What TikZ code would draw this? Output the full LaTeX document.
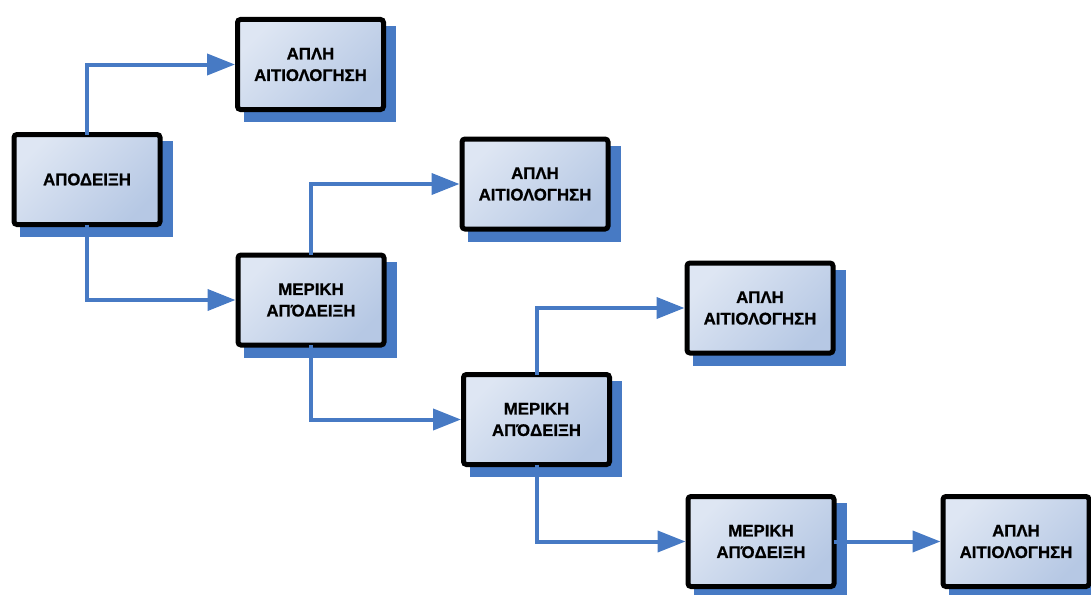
\documentclass[tikz,border=0pt]{standalone}
\usepackage{fontspec}
\setmainfont{Liberation Sans}[BoldFeatures={FakeBold=0.8}]
\usetikzlibrary{arrows.meta,backgrounds,calc}
\definecolor{blu}{RGB}{71,122,196}
\definecolor{lite}{RGB}{222,230,243}
\definecolor{dark}{RGB}{182,200,228}
\begin{document}
\begin{tikzpicture}[x=1pt,y=-1pt,
 box/.style={draw=black, line width=5pt, rounded corners=3pt, minimum width=146pt, minimum height=90pt, inner sep=0pt, outer sep=0pt, align=center, font=\bfseries\fontsize{16.8}{21.5}\selectfont, top color=lite, bottom color=dark, shading angle=45},
 conn/.style={draw=blu, line width=4pt, -{Triangle[length=28pt,width=21pt]}},
 shad/.style={fill=blu}
 ]
\useasboundingbox (0,0) rectangle (1091,594);
\node[box] (b1) at (87,179.5) {ΑΠΟΔΕΙΞΗ};
\node[box] (b2) at (310.5,64.5) {ΑΠΛΗ\\ΑΙΤΙΟΛΟΓΗΣΗ};
\node[box] (b3) at (535,184) {ΑΠΛΗ\\ΑΙΤΙΟΛΟΓΗΣΗ};
\node[box] (b4) at (311,300) {ΜΕΡΙΚΗ\\ΑΠΌΔΕΙΞΗ};
\node[box] (b5) at (760,308) {ΑΠΛΗ\\ΑΙΤΙΟΛΟΓΗΣΗ};
\node[box] (b6) at (536.5,419.5) {ΜΕΡΙΚΗ\\ΑΠΌΔΕΙΞΗ};
\node[box] (b7) at (761,541.5) {ΜΕΡΙΚΗ\\ΑΠΌΔΕΙΞΗ};
\node[box] (b8) at (1016,541.5) {ΑΠΛΗ\\ΑΙΤΙΟΛΟΓΗΣΗ};
\begin{scope}[on background layer]
\foreach \n in {b1,b2,b3,b4,b5,b6,b7,b8}
  \fill[shad] ($(\n.north west)+(6pt,-6.5pt)$) rectangle ($(\n.south east)+(12.5pt,-12.5pt)$);
\end{scope}
\draw[conn] (b1.north) |- ($(b2.west)+(-2.5pt,0)$);
\draw[conn] (b1.south) |- ($(b4.west)+(-2.5pt,0)$);
\draw[conn] (b4.north) |- ($(b3.west)+(-2.5pt,0)$);
\draw[conn] (b4.south) |- ($(b6.west)+(-2.5pt,0)$);
\draw[conn] (b6.north) |- ($(b5.west)+(-2.5pt,0)$);
\draw[conn] (b6.south) |- ($(b7.west)+(-2.5pt,0)$);
\draw[conn] (b7.east) -- ($(b8.west)+(-2.5pt,0)$);
\end{tikzpicture}
\end{document}
